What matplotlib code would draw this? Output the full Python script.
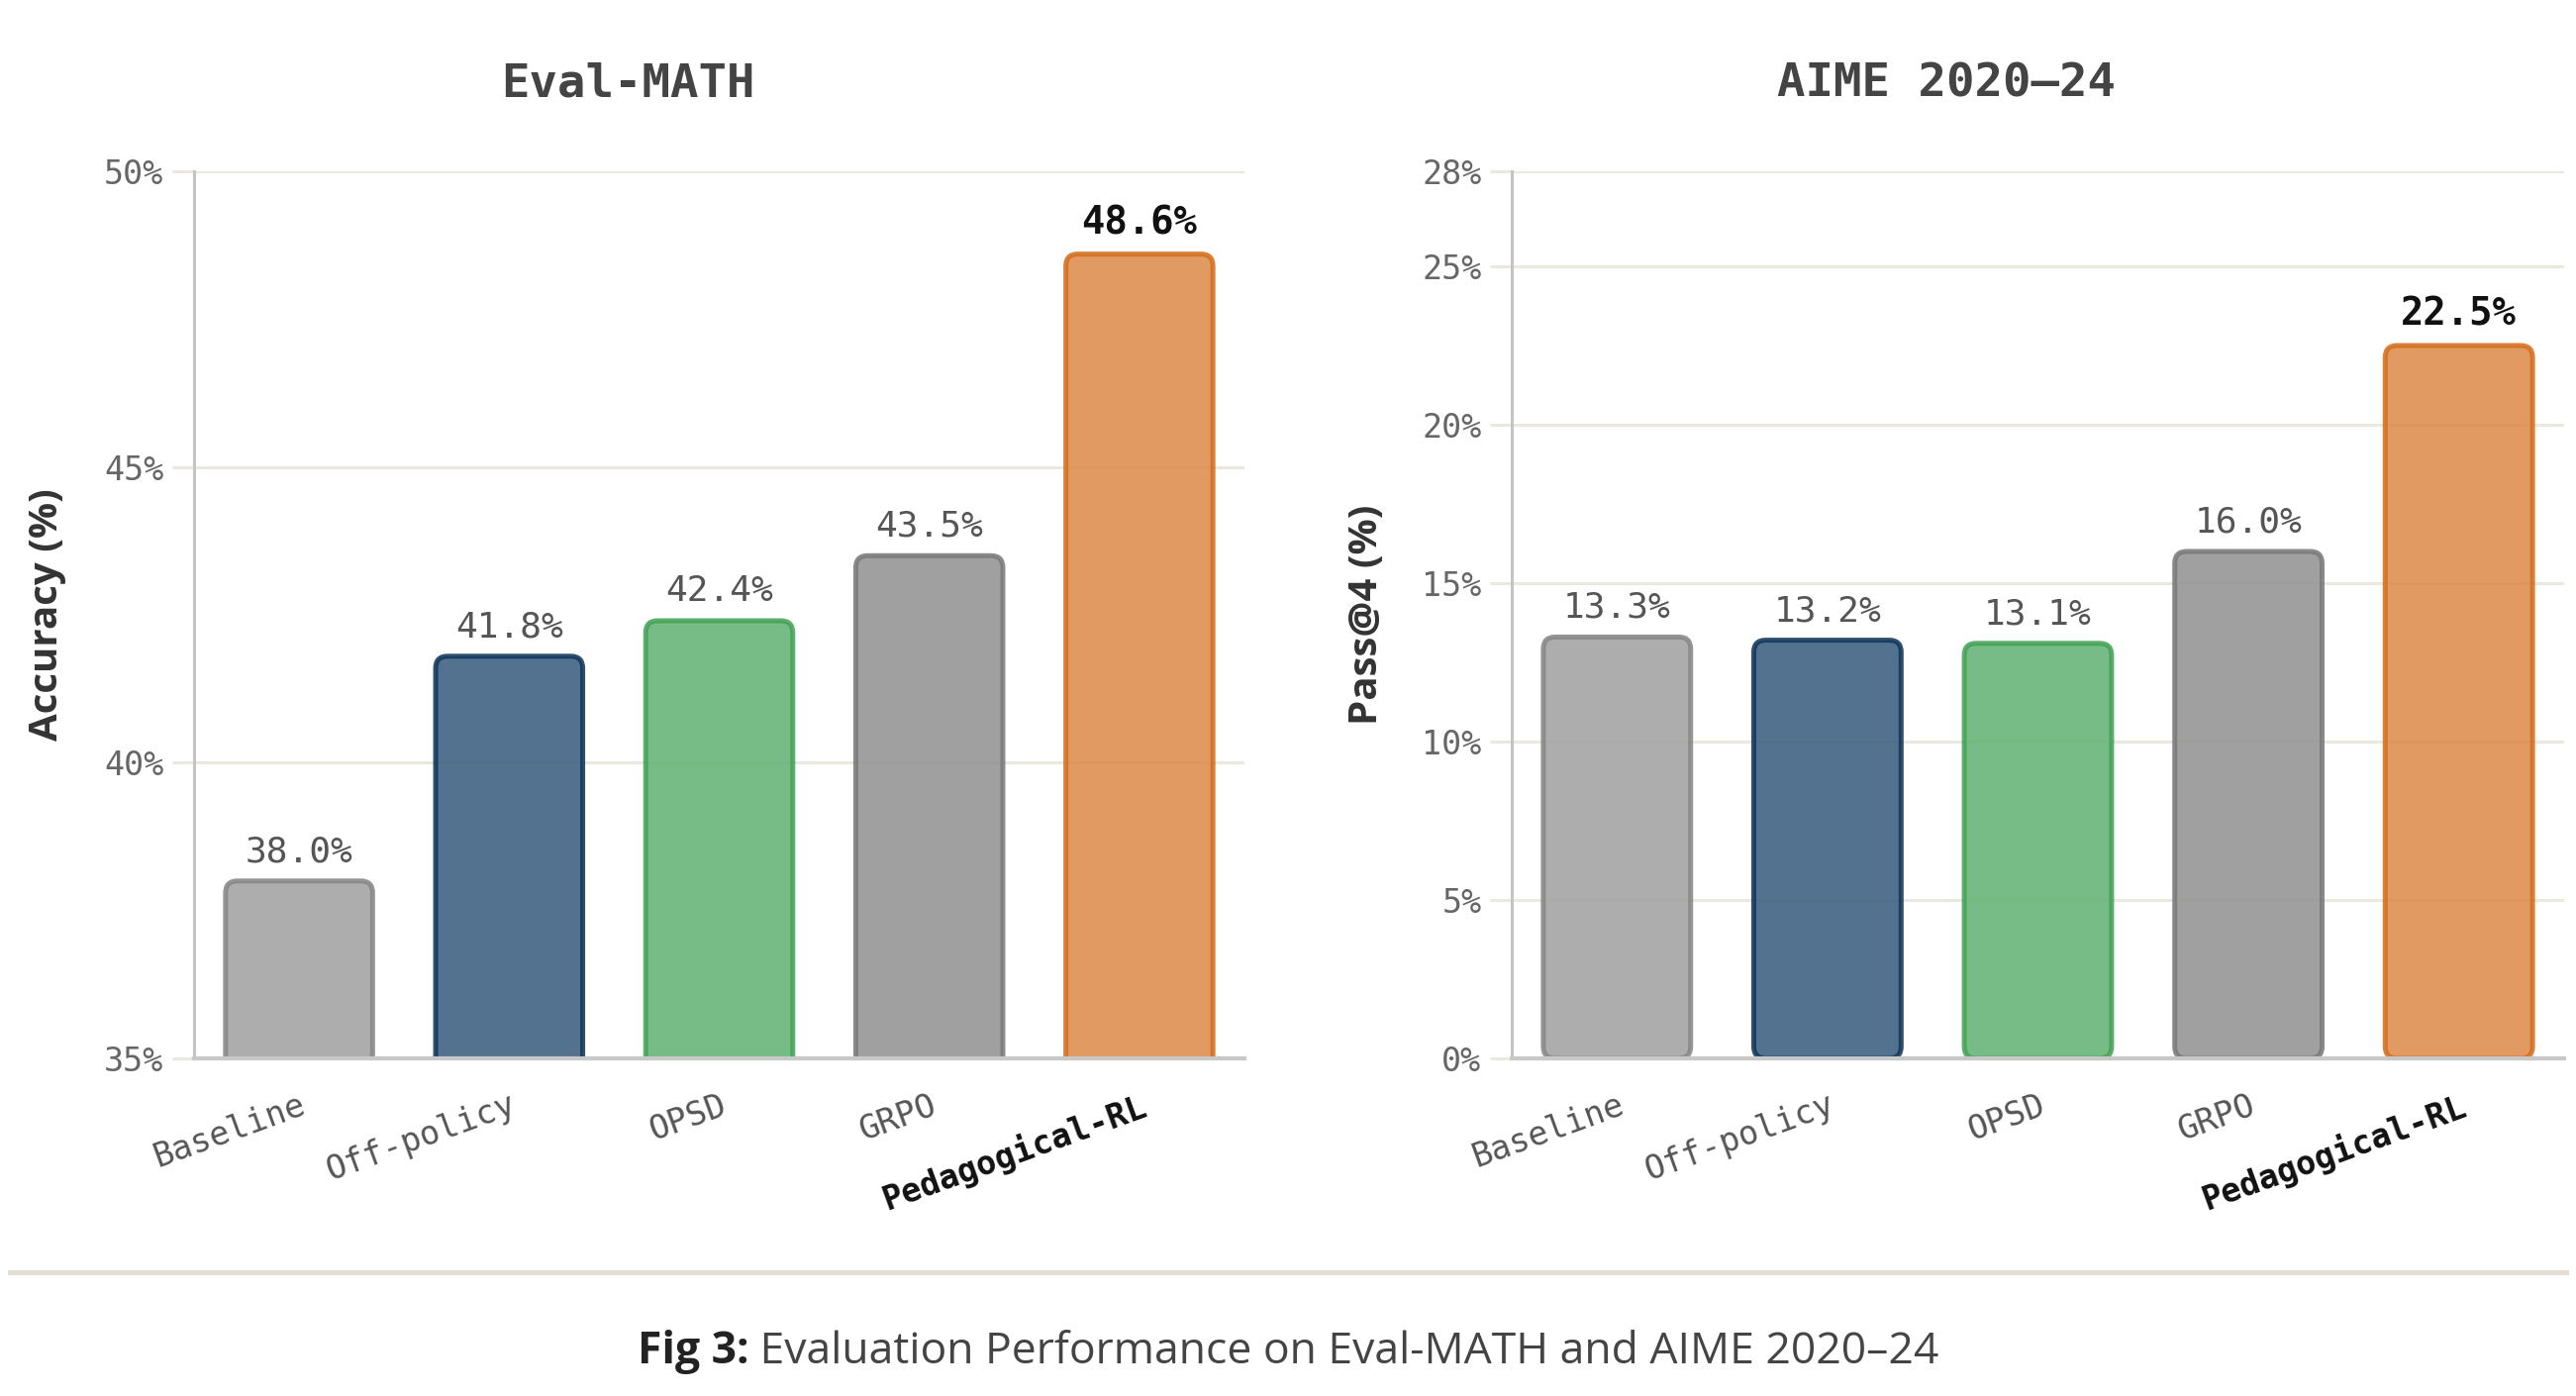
import matplotlib
matplotlib.use("Agg")
import matplotlib.pyplot as plt
from matplotlib.patches import FancyBboxPatch
from matplotlib.lines import Line2D

# data
methods = ["Baseline", "Off-policy", "OPSD", "GRPO", "Pedagogical-RL"]
eval_math = [38.0, 41.8, 42.4, 43.5, 48.6]
aime = [13.3, 13.2, 13.1, 16.0, 22.5]
eval_math_ticks = [35, 40, 45, 50]
aime_ticks = [0, 5, 10, 15, 20, 25, 28]

fill_colors = ["#a2a2a2", "#3a5f80", "#64b275", "#939393", "#dc8c4c"]
edge_colors = ["#878787", "#10365a", "#44a356", "#7a7a7a", "#d46f1f"]

MONO = "DejaVu Sans Mono"
SANS = ["Open Sans", "DejaVu Sans"]
GRID = "#ebe8e0"

plt.rcParams["font.family"] = [MONO]

W, H, DPI = 2602, 1410, 200
fig = plt.figure(figsize=(W / DPI, H / DPI), dpi=DPI)


def draw_panel(rect_px, values, ylim, yticks):
    left, top, right, bottom = rect_px
    ax = fig.add_axes([left / W, 1 - bottom / H, (right - left) / W, (bottom - top) / H])
    ax.set_xlim(-0.5, len(values) - 0.5)
    ax.set_ylim(*ylim)

    # corner rounding in data units (same pixel radius on both axes)
    x_per_px = len(values) / (right - left)
    y_per_px = (ylim[1] - ylim[0]) / (bottom - top)
    radius = 12 * x_per_px
    aspect = y_per_px / x_per_px

    bars = ax.bar(range(len(values)), values, width=0.7)
    for rect, fc, ec in zip(bars, fill_colors, edge_colors):
        x0, y0 = rect.get_xy()
        w, h = rect.get_width(), rect.get_height()
        rect.remove()
        patch = FancyBboxPatch((x0, y0), w, h,
                               boxstyle=f"round,pad=0,rounding_size={radius}",
                               mutation_aspect=aspect, facecolor=fc, edgecolor=ec,
                               linewidth=1.8, alpha=0.88, zorder=3)
        ax.add_patch(patch)

    for i, v in enumerate(values):
        last = i == len(values) - 1
        ax.annotate(f"{v:.1f}%", (i, v), xytext=(0, 4.5), textcoords="offset points",
                    ha="center", va="bottom",
                    fontsize=14 if last else 13,
                    fontweight="bold" if last else "normal",
                    color="#111111" if last else "#555555", zorder=5)

    ax.set_yticks(yticks)
    ax.set_yticklabels([f"{t}%" for t in yticks])
    ax.tick_params(axis="y", length=8, width=1.1, color=GRID, pad=3,
                   labelsize=12, labelcolor="#666666")
    ax.set_xticks(range(len(values)))
    labels = ax.set_xticklabels(methods, rotation=20, ha="right", rotation_mode="anchor")
    ax.tick_params(axis="x", length=0, pad=11, labelsize=12, labelcolor="#555555")
    labels[-1].set_fontweight("bold")
    labels[-1].set_color("#111111")

    ax.grid(axis="y", color=GRID, linewidth=1.1, zorder=0)
    ax.set_axisbelow(True)
    for s in ["top", "right"]:
        ax.spines[s].set_visible(False)
    ax.spines["left"].set_color("#c4c4c4")
    ax.spines["left"].set_linewidth(1.1)
    ax.spines["bottom"].set_color("#c8c8c8")
    ax.spines["bottom"].set_linewidth(1.5)
    ax.spines["bottom"].set_zorder(4)
    return ax


ax1 = draw_panel((196, 173, 1257, 1069), eval_math, (35, 50), eval_math_ticks)
ax2 = draw_panel((1527, 173, 2590, 1069), aime, (0, 28), aime_ticks)

fig.text(634 / W, 1 - 85 / H, "Eval-MATH", ha="center", va="center",
         fontsize=17, fontweight="bold", color="#444444")
fig.text(1966 / W, 1 - 85 / H, "AIME 2020\u201324", ha="center", va="center",
         fontsize=17, fontweight="bold", color="#444444")

fig.text(48 / W, 1 - 621 / H, "Accuracy (%)", rotation=90, ha="center", va="center",
         family=SANS, fontsize=14.5, fontweight="bold", color="#333333")
fig.text(1380 / W, 1 - 621 / H, "Pass@4 (%)", rotation=90, ha="center", va="center",
         family=SANS, fontsize=14.5, fontweight="bold", color="#333333")

# separator line
fig.add_artist(Line2D([10 / W, 2592 / W], [1 - 1285 / H] * 2, color="#e4ddd4",
                      linewidth=1.8, transform=fig.transFigure))

# caption: bold prefix + regular text, centred together
cap_y = 1 - 1366 / H
t1 = fig.text(0, cap_y, "Fig 3:", ha="left", va="center", family=SANS,
              fontsize=16, fontweight="bold", color="#222222")
t2 = fig.text(0, cap_y, " Evaluation Performance on Eval-MATH and AIME 2020\u201324",
              ha="left", va="center", family=SANS, fontsize=16, color="#444444")
fig.canvas.draw()
r = fig.canvas.get_renderer()
w1 = t1.get_window_extent(r).width
w2 = t2.get_window_extent(r).width
x0 = 1301 - (w1 + w2) / 2
t1.set_x(x0 / W)
t2.set_x((x0 + w1) / W)

fig.savefig("out.png", dpi=DPI, facecolor="white")
